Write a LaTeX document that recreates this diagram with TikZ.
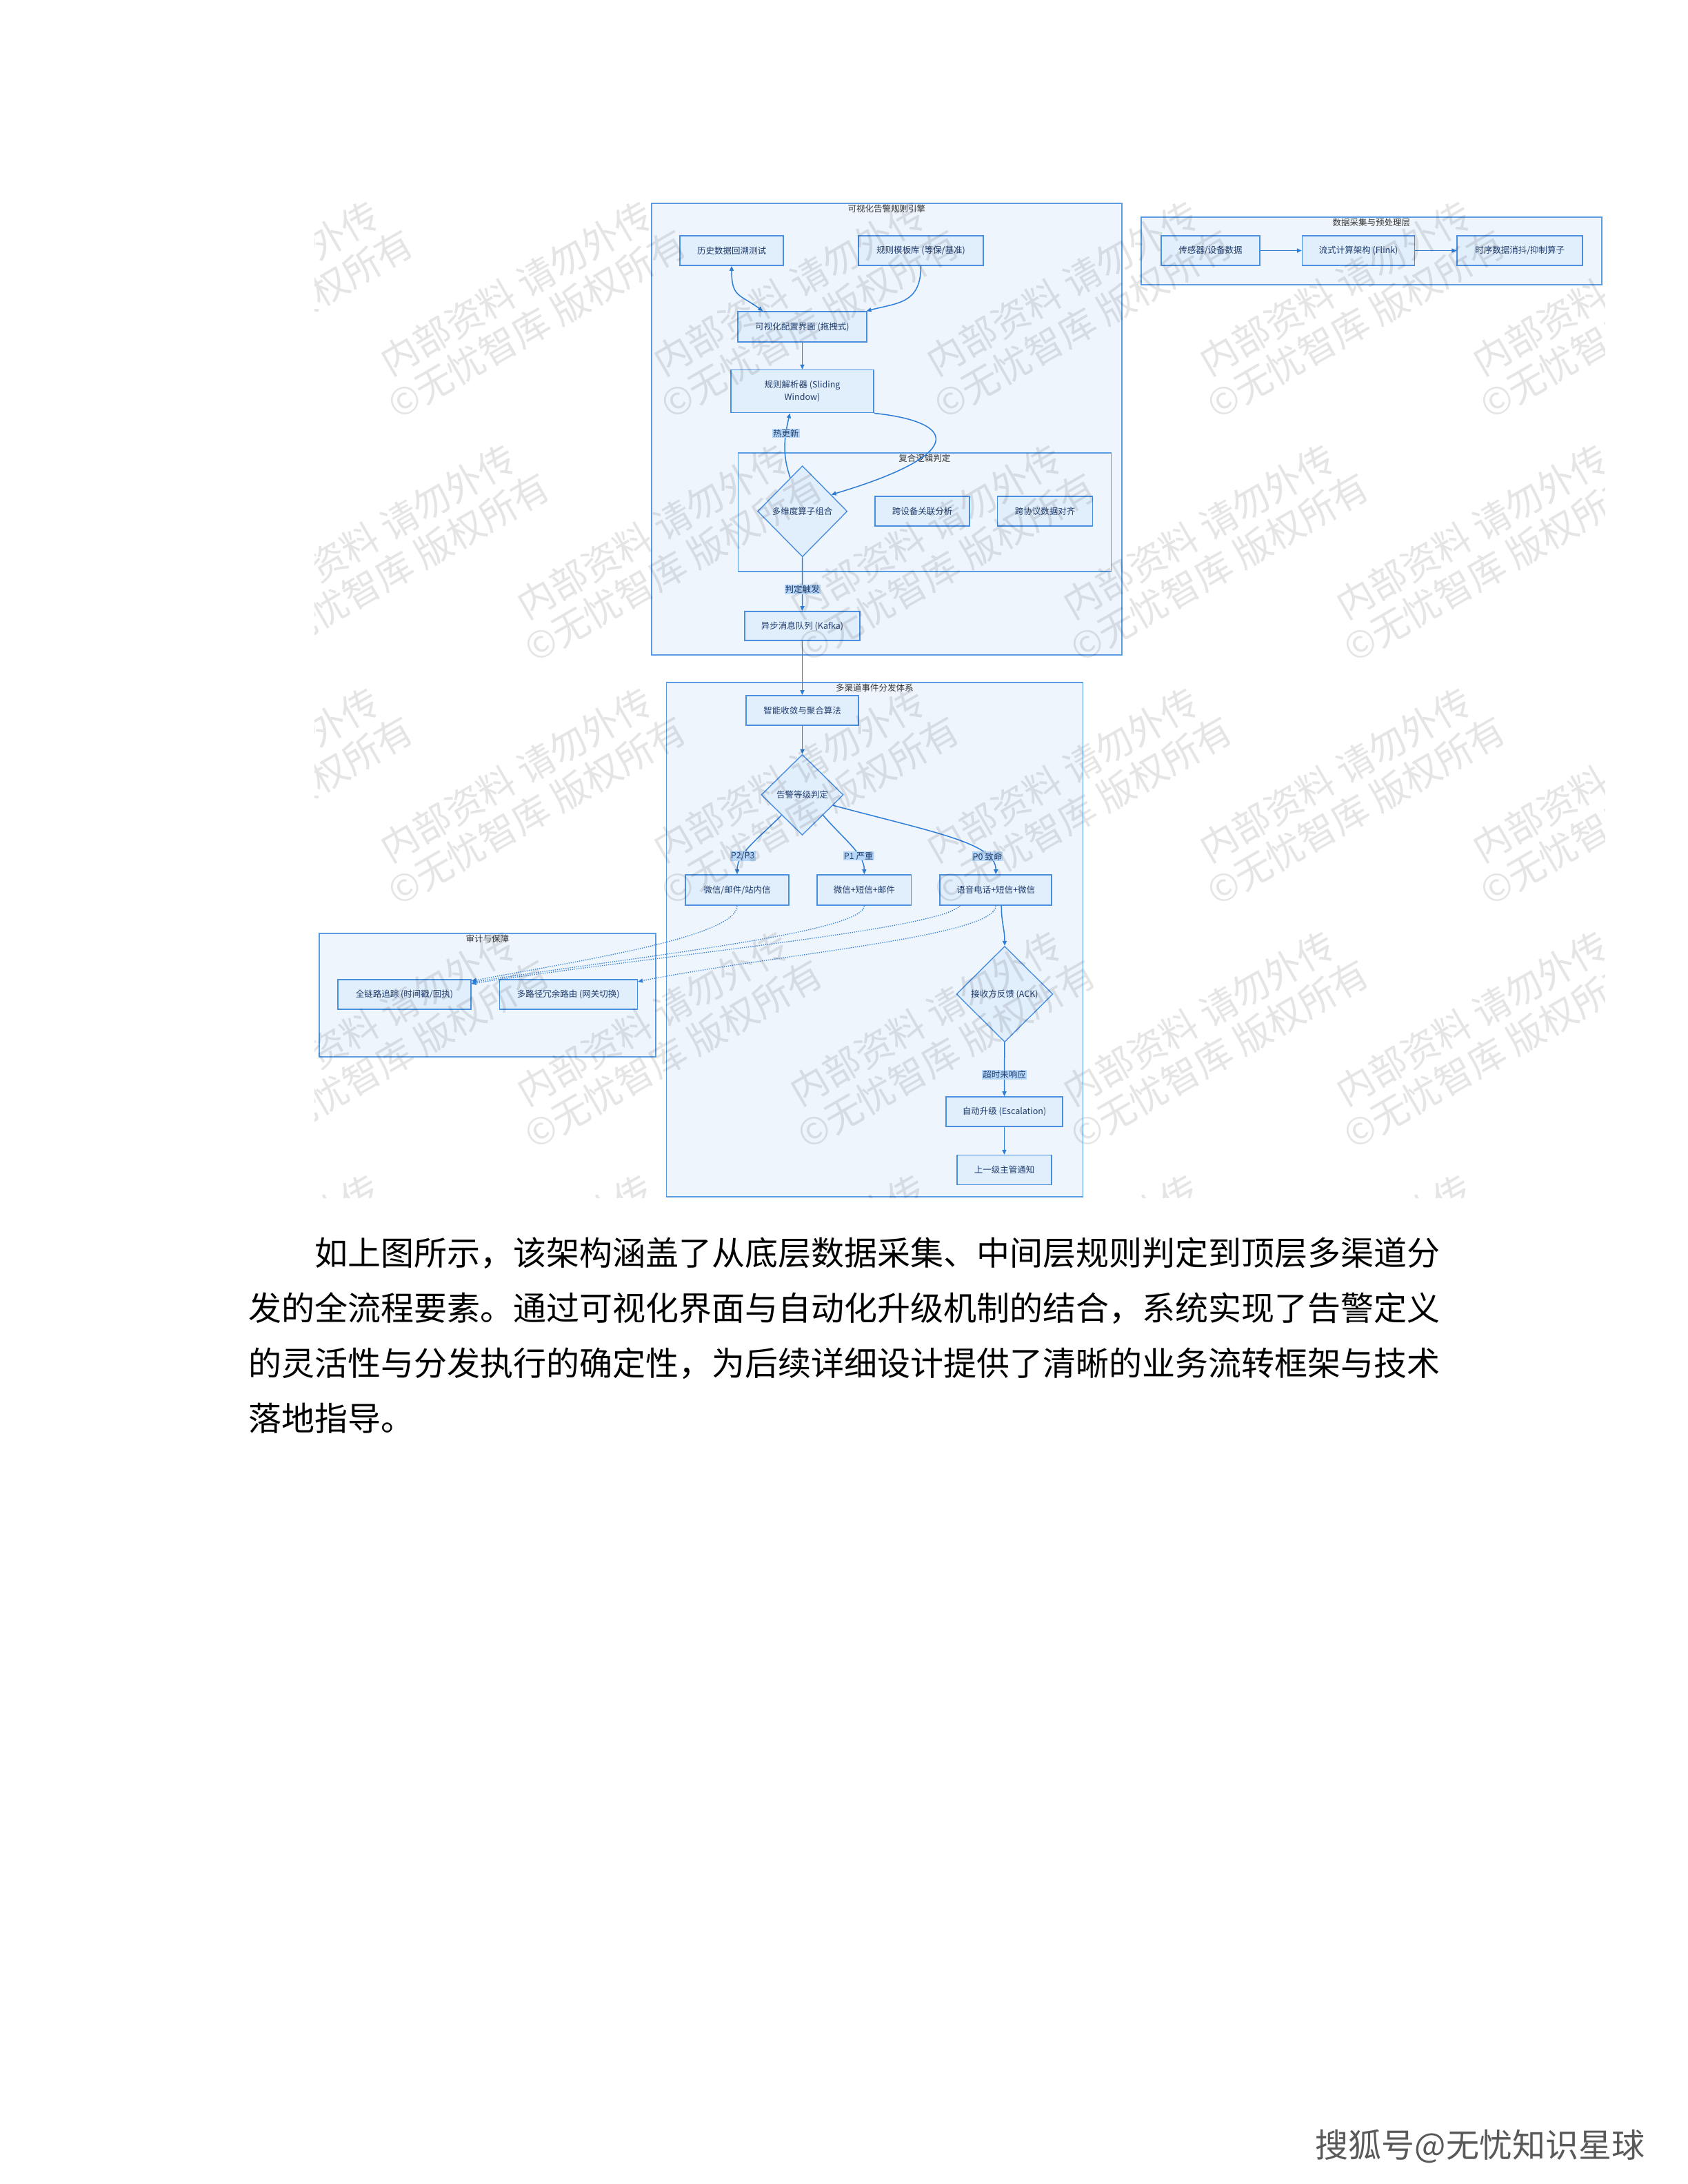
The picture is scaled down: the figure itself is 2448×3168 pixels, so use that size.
\documentclass[tikz,border=0pt]{standalone}
\usepackage{fontspec}
\setmainfont{Noto Sans CJK SC}
\definecolor{layerfill}{HTML}{EEF5FD}
\definecolor{layerline}{HTML}{5A9BE2}
\definecolor{stagefill}{HTML}{E1EEFB}
\definecolor{stageline}{HTML}{4A8FDF}
\definecolor{stagetext}{HTML}{1E3C6E}
\definecolor{flowblue}{HTML}{2E7DD6}
\definecolor{labfill}{HTML}{B6D7F7}
\definecolor{titlegray}{HTML}{333333}
\usetikzlibrary{arrows.meta, shapes.geometric, positioning}

\begin{document}
\begin{tikzpicture}[
  x=1pt, y=-1pt,
  >={Triangle[length=7pt,width=6pt]},
  node distance=40pt,
  layer/.style={rectangle, draw=layerline, fill=layerfill, line width=1.8pt,
    anchor=north west, inner sep=0pt},
  layertitle/.style={anchor=north, yshift=-3pt, inner sep=0pt,
    font=\fontsize{12.5}{15}\selectfont, text=titlegray},
  stage/.style={rectangle, draw=stageline, fill=stagefill, line width=1.6pt,
    minimum height=43pt, inner sep=2pt, align=center,
    font=\fontsize{12.5}{18}\selectfont, text=stagetext},
  decision/.style={diamond, aspect=1, draw=stageline, fill=stagefill, line width=1.4pt,
    inner sep=0pt, align=center, font=\fontsize{12.5}{15}\selectfont, text=stagetext},
  flow/.style={->, line width=1.5pt, color=flowblue},
  auditflow/.style={->, line width=1.3pt, dash pattern=on 1.3pt off 1.8pt, color=flowblue},
  lab/.style={fill=labfill, inner sep=1pt, font=\fontsize{12.5}{15}\selectfont, text=stagetext},
  watermark/.style={rotate=30, anchor=north, align=center, inner sep=0pt,
    font=\fontsize{54}{60}\selectfont, text=black, text opacity=0.1},
  para/.style={anchor=north west, align=left, inner sep=0pt,
    font=\fontsize{48}{80}\selectfont}
]
\fill[white] (0,0) rectangle (2448,3168);
\useasboundingbox (0,0) rectangle (2448,3168);

\node[layer, minimum width=668pt, minimum height=98pt] (datalayer) at (1654,314) {};
\node[layertitle] (datatitle) at (datalayer.north) {数据采集与预处理层};
\node[layer, minimum width=682pt, minimum height=655pt] (engine) at (944,294) {};
\node[layertitle] (enginetitle) at (engine.north) {可视化告警规则引擎};
\node[layer, minimum width=541pt, minimum height=172pt] (logic) at (1069.5,656) {};
\node[layertitle] (logictitle) at (logic.north) {复合逻辑判定};
\node[layer, minimum width=604pt, minimum height=746pt] (dispatch) at (965.5,989) {};
\node[layertitle] (dispatchtitle) at (dispatch.north) {多渠道事件分发体系};
\node[layer, minimum width=488pt, minimum height=179pt] (audit) at (462,1353) {};
\node[layertitle] (audittitle) at (audit.north) {审计与保障};

\node[stage, minimum width=143pt] (sensor) at (1755.5,363.5) {传感器/设备数据};
\node[stage, minimum width=163pt, right=60pt of sensor] (flink) {流式计算架构 (Flink)};
\node[stage, minimum width=182pt, right=60pt of flink] (debounce) {时序数据消抖/抑制算子};

\node[stage, minimum width=150pt] (hist) at (1061,363.5) {历史数据回溯测试};
\node[stage, minimum width=181pt] (tmpl) at (1335.5,363.5) {规则模板库 (等保/基准)};
\node[stage, minimum width=187pt, minimum height=44pt] (conf) at (1163.5,474) {可视化配置界面 (拖拽式)};
\node[stage, minimum width=207pt, minimum height=62pt, below=39pt of conf] (parser) {规则解析器 (Sliding\\Window)};
\node[decision, minimum width=130pt, minimum height=132pt] (multi) at (1163.7,741.7) {多维度算子组合};
\node[stage, minimum width=137pt] (xdev) at (1337.5,741.5) {跨设备关联分析};
\node[stage, minimum width=138pt, right=39pt of xdev] (xproto) {跨协议数据对齐};
\node[stage, minimum width=167pt, minimum height=42pt] (kafka) at (1163.5,908) {异步消息队列 (Kafka)};

\node[stage, minimum width=163pt] (conv) at (1163.5,1030.4) {智能收敛与聚合算法};
\node[decision, minimum width=119pt, minimum height=117pt, below=41pt of conv] (level) {告警等级判定};
\node[stage, minimum width=150pt, minimum height=44pt] (ch1) at (1069,1291) {微信/邮件/站内信};
\node[stage, minimum width=136.5pt, minimum height=44pt, right=39.5pt of ch1] (ch2) {微信+短信+邮件};
\node[stage, minimum width=162pt, minimum height=44pt, right=40pt of ch2] (ch3) {语音电话+短信+微信};
\node[decision, minimum width=140pt, minimum height=139pt] (ack) at (1457,1442) {接收方反馈 (ACK)};
\node[stage, minimum width=169pt] (esc) at (1456.5,1612.5) {自动升级 (Escalation)};
\node[stage, minimum width=136.5pt, below=40pt of esc] (boss) {上一级主管通知};

\node[stage, minimum width=193pt] (trace) at (586.5,1442.2) {全链路追踪 (时间戳/回执)};
\node[stage, minimum width=200pt, right=39.7pt of trace] (redund) {多路径冗余路由 (网关切换)};

\draw[flow] (sensor) -- (flink);
\draw[flow] (flink) -- (debounce);

\draw[flow, <->] (hist.south) .. controls +(0,45) and +(-35,-25) .. ([xshift=-57pt]conf.north);
\draw[flow] (tmpl.south) .. controls +(0,55) and +(45,-12) .. ([xshift=93pt]conf.north);
\draw[flow] (conf) -- (parser);
\draw[flow] (parser.south east) .. controls +(123,13) and +(195,-58) .. (multi.30);
\draw[flow] (multi.110) .. controls +(-12,-35) and +(-8,35) .. node[lab, pos=0.7] {热更新} ([xshift=-18pt]parser.south);
\draw[flow] (multi) -- node[lab, pos=0.6] {判定触发} (kafka);
\draw[flow] (kafka) -- (conv);
\draw[flow] (conv) -- (level);

\draw[flow] (level.south west) .. controls +(-35,35) and +(0,-30) .. node[lab, pos=0.68] {P2/P3} (ch1.north);
\draw[flow] (level.south east) .. controls +(30,35) and +(0,-30) .. node[lab, pos=0.68] {P1 严重} (ch2.north);
\draw[flow] (level.-19) .. controls +(150,40) and +(0,-45) .. node[lab, pos=0.78] {P0 致命} (ch3.north);

\draw[auditflow] (ch1.south) .. controls +(0,45) and +(160,-30) .. ([yshift=-3pt]trace.north east);
\draw[auditflow] (ch2.south) .. controls +(0,40) and +(220,-35) .. ([yshift=-5pt]trace.north east);
\draw[auditflow] ([xshift=-52pt]ch3.south) .. controls +(-30,35) and +(260,-40) .. ([yshift=-7pt]trace.north east);
\draw[auditflow] (ch3.south) .. controls +(0,45) and +(200,-40) .. ([yshift=-4pt]redund.north east);

\draw[flow] ([xshift=8pt]ch3.south) .. controls +(0,25) and +(0,-25) .. (ack.north);
\draw[flow] (ack) -- node[lab, pos=0.6] {超时未响应} (esc);
\draw[flow] (esc) -- (boss);

\begin{scope}
  \clip (456,288) rectangle (2327,1737);
  \foreach \row in {0,...,4}{
    \foreach \col in {-1,...,4}{
      \pgfmathsetmacro{\wx}{736+396*\col+198*mod(\row,2)}
      \pgfmathsetmacro{\wy}{396+353*\row}
      \node[watermark] (wm-\row-\col) at (\wx,\wy) {内部资料 请勿外传\\©无忧智库 版权所有};
    }
  }
\end{scope}

\node[para] (summary) at (360,1795) {\hspace*{2em}如上图所示，该架构涵盖了从底层数据采集、中间层规则判定到顶层多渠道分\\发的全流程要素。通过可视化界面与自动化升级机制的结合，系统实现了告警定义\\的灵活性与分发执行的确定性，为后续详细设计提供了清晰的业务流转框架与技术\\落地指导。};
\node[font=\fontsize{48}{56}\selectfont, text=black!65, inner sep=0pt] (credit) at (2146.5,3113) {搜狐号@无忧知识星球};
\end{tikzpicture}
\end{document}
